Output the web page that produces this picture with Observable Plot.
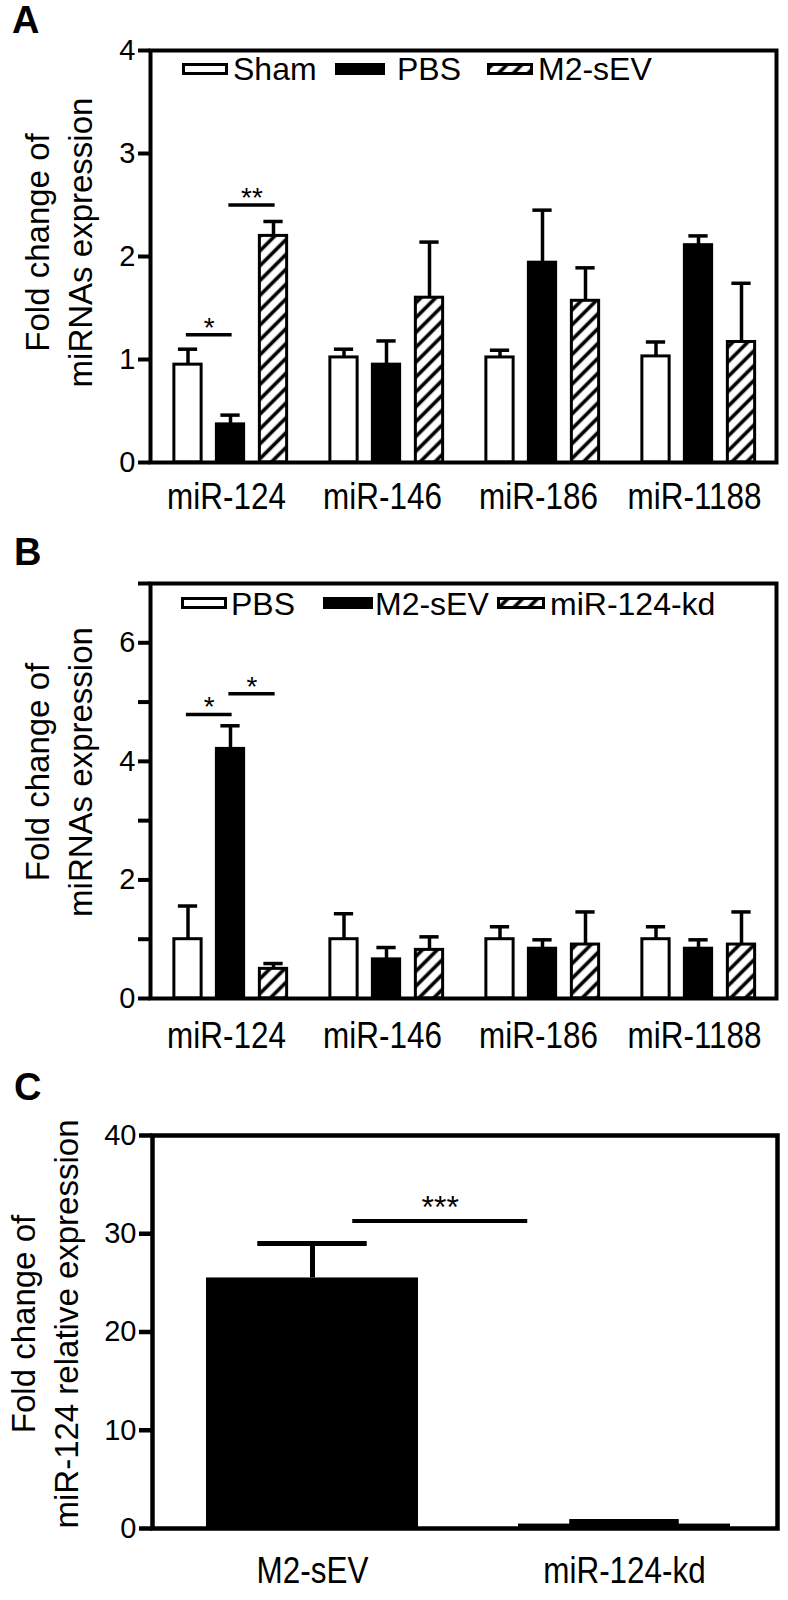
<!DOCTYPE html>
<html>
<head>
<meta charset="utf-8">
<script src="https://cdn.jsdelivr.net/npm/d3@7"></script>
<script src="https://cdn.jsdelivr.net/npm/@observablehq/plot@0.6"></script>
<style>
  html, body { margin: 0; padding: 0; background: #fff; }
  #root { position: relative; width: 788px; height: 1600px; overflow: hidden; }
  .panel { position: absolute; left: 0; }
</style>
</head>
<body>
<div id="root"></div>
<script>
// ---------------- DATA ----------------
const groups = ["miR-124", "miR-146", "miR-186", "miR-1188"];

// Panel A
const seriesA = ["Sham", "PBS", "M2-sEV"];
const shamA    = [0.95, 1.02, 1.02, 1.03];
const shamAErr = [0.15, 0.08, 0.07, 0.14];
const pbsA     = [0.37, 0.95, 1.94, 2.11];
const pbsAErr  = [0.09, 0.23, 0.51, 0.09];
const m2A      = [2.20, 1.60, 1.57, 1.17];
const m2AErr   = [0.14, 0.54, 0.32, 0.57];
const ticksA = [0, 1, 2, 3, 4];
const sigA = [
  {group: "miR-124", from: 0, to: 1, y: 1.24, label: "*"},
  {group: "miR-124", from: 1, to: 2, y: 2.50, label: "**"}
];

// Panel B
const seriesB = ["PBS", "M2-sEV", "miR-124-kd"];
const pbsB     = [1.00, 1.00, 1.00, 1.00];
const pbsBErr  = [0.56, 0.43, 0.21, 0.21];
const m2B      = [4.21, 0.66, 0.84, 0.84];
const m2BErr   = [0.39, 0.20, 0.15, 0.15];
const kdB      = [0.50, 0.82, 0.91, 0.91];
const kdBErr   = [0.09, 0.22, 0.55, 0.55];
const ticksB = [0, 1, 2, 3, 4, 5, 6, 7];
const tickLabelsB = [0, 2, 4, 6];
const sigB = [
  {group: "miR-124", from: 0, to: 1, y: 4.79, label: "*"},
  {group: "miR-124", from: 1, to: 2, y: 5.14, label: "*"}
];

// Panel C
const groupsC = ["M2-sEV", "miR-124-kd"];
const valuesC = [25.5, 0.45];
const errC    = [3.5, 0.25];
const ticksC  = [0, 10, 20, 30, 40];
const sigC = {from: "M2-sEV", to: "miR-124-kd", y: 31.3, label: "***"};

// ---------------- LAYOUT / STYLE ----------------
const FONT = '"Liberation Sans", Arial, Helvetica, sans-serif';
const W = 788;
const root = document.getElementById("root");

function addHatch(svg, id) {
  const defs = d3.select(svg).insert("defs", ":first-child");
  const s = 10.5;
  const p = defs.append("pattern").attr("id", id)
    .attr("patternUnits", "userSpaceOnUse")
    .attr("width", s).attr("height", s)
    .attr("patternTransform", "rotate(45)");
  p.append("rect").attr("width", s).attr("height", s).attr("fill", "white");
  p.append("line").attr("x1", s / 2).attr("x2", s / 2).attr("y1", 0).attr("y2", s)
    .attr("stroke", "black").attr("stroke-width", 3.6);
}

// condense the x-axis tick labels horizontally (narrow-font look of the original)
function narrowXLabels(svg, sx) {
  d3.select(svg).selectAll('g[aria-label="x-axis tick label"] text').each(function () {
    const xa = this.getAttribute("x");
    const t = this.getAttribute("transform") || "";
    let pre = t;
    if (xa !== null && xa !== "" && !isNaN(+xa)) {
      this.removeAttribute("x");
      pre = `${t} translate(${+xa},0)`;
    }
    this.setAttribute("transform", `${pre} scale(${sx},1)`);
  });
}

function place(svg, top) {
  const div = document.createElement("div");
  div.className = "panel";
  div.style.top = top + "px";
  div.appendChild(svg);
  root.appendChild(div);
}

function addLetter(svg, letter, x, y) {
  d3.select(svg).append("text").attr("x", x).attr("y", y)
    .attr("text-anchor", "start")
    .attr("font-family", FONT).attr("font-weight", "bold").attr("font-size", 38)
    .attr("fill", "black").text(letter);
}

function addLegend(svg, labels, fills, layout) {
  const g = d3.select(svg).append("g").attr("font-family", FONT).attr("font-size", 32)
    .attr("text-anchor", "start");
  labels.forEach((lab, i) => {
    const [x0, x1, tx] = layout.items[i];
    g.append("rect")
      .attr("x", x0 + 1.5).attr("y", layout.boxTop + 1.5)
      .attr("width", x1 - x0 - 3).attr("height", layout.boxH - 3)
      .attr("fill", fills[i]).attr("stroke", "black").attr("stroke-width", 3);
    g.append("text").attr("x", tx).attr("y", layout.baseline).attr("fill", "black").text(lab);
  });
}

function groupedPanel(cfg) {
  const {series, means, errs, fills, yMax, ticks, tickFormat, sig, height, mt, mb, titleDy, title, labelPad} = cfg;
  const ml = 150, mr = 12;
  const xr = [150.5, 777.5];
  const bw = (xr[1] - xr[0]) / groups.length;
  const barW = 28, capW = 20;
  const off = [-42.5, 0, 43];
  const marks = [];
  series.forEach((s, si) => {
    const data = groups.map((g, gi) => ({group: g, value: means[si][gi], err: errs[si][gi]}));
    marks.push(Plot.ruleX(data, {x: "group", y1: "value", y2: d => d.value + d.err,
      stroke: "black", strokeWidth: 3.5, dx: off[si]}));
    marks.push(Plot.tickY(data, {x: "group", y: d => d.value + d.err, stroke: "black",
      strokeWidth: 3.5, insetLeft: (bw - capW) / 2, insetRight: (bw - capW) / 2, dx: off[si]}));
    marks.push(Plot.barY(data, {x: "group", y: "value", fill: fills[si], stroke: "black",
      strokeWidth: 3, insetLeft: (bw - barW) / 2, insetRight: (bw - barW) / 2, dx: off[si]}));
  });
  sig.forEach(s => {
    marks.push(Plot.tickY([s], {x: "group", y: "y", stroke: "black", strokeWidth: 3.5,
      insetLeft: bw / 2 + off[s.from] - 2, insetRight: bw / 2 - off[s.to] - 2}));
    marks.push(Plot.text([s], {x: "group", y: "y", text: "label", fontSize: 28,
      dx: (off[s.from] + off[s.to]) / 2, dy: -7}));
  });
  marks.push(Plot.frame({stroke: "black", strokeWidth: 4}));
  marks.push(Plot.axisY({ticks, tickFormat, tickSize: 12, tickPadding: 3, fontSize: 29,
    strokeWidth: 4, label: null}));
  marks.push(Plot.axisX({tickSize: 0, tickPadding: labelPad, fontSize: 37, dx: -4, label: null}));
  marks.push(Plot.text([title], {frameAnchor: "left", textAnchor: "middle", lineAnchor: "middle",
    text: d => d, rotate: -90, dx: 56 - ml, dy: titleDy, fontSize: 33, lineHeight: 1.33}));
  const svg = Plot.plot({
    width: W, height, marginTop: mt, marginBottom: mb, marginLeft: ml, marginRight: mr,
    x: {domain: groups, range: xr, padding: 0, label: null},
    y: {domain: [0, yMax], label: null},
    style: {fontFamily: FONT, background: "white", color: "black", overflow: "visible"},
    marks
  });
  narrowXLabels(svg, 0.85);
  return svg;
}

// ---------------- PANEL A ----------------
const fillsA = ["white", "black", "url(#hatchA)"];
const svgA = groupedPanel({
  series: seriesA, means: [shamA, pbsA, m2A], errs: [shamAErr, pbsAErr, m2AErr],
  fills: fillsA, yMax: 4, ticks: ticksA, tickFormat: d => String(d), sig: sigA,
  height: 520, mt: 50, mb: 58, titleDy: -14, labelPad: 20,
  title: "Fold change of\nmiRNAs expression"
});
addHatch(svgA, "hatchA");
addLegend(svgA, seriesA, fillsA, {
  boxTop: 63, boxH: 12, baseline: 80,
  items: [[182, 228, 233], [335, 385, 397], [487, 533, 538]]
});
addLetter(svgA, "A", 12, 33);
place(svgA, 0);

// ---------------- PANEL B ----------------
const fillsB = ["white", "black", "url(#hatchB)"];
const svgB = groupedPanel({
  series: seriesB, means: [pbsB, m2B, kdB], errs: [pbsBErr, m2BErr, kdBErr],
  fills: fillsB, yMax: 7, ticks: ticksB,
  tickFormat: d => tickLabelsB.includes(d) ? String(d) : "", sig: sigB,
  height: 540, mt: 63, mb: 62, titleDy: -19, labelPad: 23,
  title: "Fold change of\nmiRNAs expression"
});
addHatch(svgB, "hatchB");
addLegend(svgB, seriesB, fillsB, {
  boxTop: 77, boxH: 12, baseline: 94.5,
  items: [[181, 227, 231], [323, 373, 375], [497, 545, 550]]
});
addLetter(svgB, "B", 14, 45);
place(svgB, 520);

// ---------------- PANEL C ----------------
(function () {
  const ml = 152, mr = 11;
  const xr = [156, 781];
  const pIn = 0.32, pOut = 0.16;
  const step = (xr[1] - xr[0]) / (groupsC.length - pIn + 2 * pOut);
  const bw = step * (1 - pIn);
  const capW = 110;
  const dataC = groupsC.map((g, i) => ({group: g, value: valuesC[i], err: errC[i]}));
  const svgC = Plot.plot({
    width: W, height: 540, marginTop: 75, marginBottom: 72, marginLeft: ml, marginRight: mr,
    x: {domain: groupsC, range: xr, paddingInner: pIn, paddingOuter: pOut, label: null},
    y: {domain: [0, 40], label: null},
    style: {fontFamily: FONT, background: "white", color: "black", overflow: "visible"},
    marks: [
      Plot.ruleX(dataC, {x: "group", y1: "value", y2: d => d.value + d.err, stroke: "black", strokeWidth: 5}),
      Plot.tickY(dataC, {x: "group", y: d => d.value + d.err, stroke: "black", strokeWidth: 5,
        insetLeft: (bw - capW) / 2, insetRight: (bw - capW) / 2}),
      Plot.barY(dataC, {x: "group", y: "value", fill: "black"}),
      Plot.tickY([sigC], {x: "from", y: "y", stroke: "black", strokeWidth: 4,
        insetLeft: bw / 2 + 40, insetRight: bw / 2 - step + 97}),
      Plot.text([sigC], {x: "from", y: "y", text: "label", fontSize: 32,
        dx: (step - 57) / 2, dy: -13}),
      Plot.frame({stroke: "black", strokeWidth: 4.5}),
      Plot.axisY({ticks: ticksC, tickSize: 13, tickPadding: 3, fontSize: 29, strokeWidth: 4.5, label: null}),
      Plot.axisX({tickSize: 0, tickPadding: 28, fontSize: 37, label: null}),
      Plot.text(["Fold change of\nmiR-124 relative expression"], {frameAnchor: "left",
        textAnchor: "middle", lineAnchor: "middle", text: d => d,
        rotate: -90, dx: 42 - ml, dy: -8, fontSize: 33, lineHeight: 1.3})
    ]
  });
  narrowXLabels(svgC, 0.85);
  addLetter(svgC, "C", 14, 40);
  place(svgC, 1060);
})();
</script>
</body>
</html>
